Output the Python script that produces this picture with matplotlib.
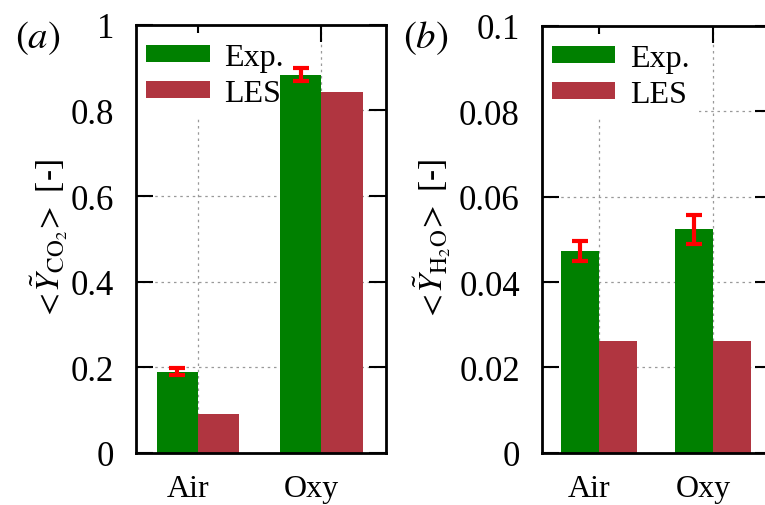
import matplotlib.pyplot as plt
import matplotlib.transforms as mtransforms
import numpy as np

plt.rcParams['font.family'] = 'Liberation Serif'
plt.rcParams['mathtext.fontset'] = 'stix'

cases = ['Air', 'Oxy']
# panel (a): mean CO2 mass fraction
co2_exp = [0.19, 0.883]
co2_exp_err = [0.008, 0.015]
co2_les = [0.091, 0.842]
# panel (b): mean H2O mass fraction
h2o_exp = [0.0473, 0.0524]
h2o_exp_err = [0.0023, 0.0034]
h2o_les = [0.0262, 0.0262]

green = '#008000'
red = '#b03540'

fig = plt.figure(figsize=(7.65, 5.06), dpi=100)
ax1 = fig.add_axes([0.178, 0.103, 0.326, 0.846])
ax2 = fig.add_axes([0.7085, 0.103, 0.3007, 0.844])


def draw(ax, exp, err, les, ymax, yticks, yfmt, ylabel, labx):
    x = np.arange(len(cases))
    w = 1/3
    ax.bar(x - w/2, exp, w, color=green, label='Exp.', zorder=2)
    ax.bar(x + w/2, les, w, color=red, label='LES', zorder=2)
    ax.errorbar(x - w/2, exp, yerr=err, fmt='none', ecolor='red',
                elinewidth=3, capsize=6, capthick=3, zorder=3)
    ax.set_xlim(-0.5, 1.52)
    ax.set_ylim(0, ymax)
    ax.set_xticks(x)
    ax.set_xticklabels(cases)
    ax.set_yticks(yticks)
    ax.set_yticklabels([yfmt(v) for v in yticks])
    ax.grid(True, linestyle=(0, (2, 3)), color='#999999', linewidth=0.9, zorder=0)
    ax.set_axisbelow(True)
    ax.tick_params(direction='in', length=12, width=1.5, top=True, right=True)
    ax.tick_params(axis='y', pad=16, labelsize=25)
    ax.tick_params(axis='x', pad=15, labelsize=23)
    # x labels sit a little left of their ticks
    shift = mtransforms.ScaledTranslation(-0.10, 0, fig.dpi_scale_trans)
    for lab in ax.get_xticklabels():
        lab.set_transform(lab.get_transform() + shift)
    for s in ax.spines.values():
        s.set_linewidth(2)
    ax.set_ylabel(ylabel, fontsize=24)
    ax.yaxis.set_label_coords(labx, 0.5)
    leg = ax.legend(loc='upper left', bbox_to_anchor=(0.0, 0.98), frameon=True,
                    fontsize=23, handlelength=2.0, handleheight=0.45,
                    borderpad=0.3, labelspacing=0.22, handletextpad=0.45,
                    borderaxespad=0)
    leg.get_frame().set_edgecolor('none')
    leg.get_frame().set_alpha(1)
    leg.get_frame().set_boxstyle('square', pad=0)
    leg.set_zorder(1.5)
    return ax


def fmt_a(v):
    return '0' if v == 0 else ('1' if v == 1 else '%.1f' % v)


def fmt_b(v):
    return '0' if v == 0 else ('0.1' if abs(v - 0.1) < 1e-9 else '%.2f' % v)


draw(ax1, co2_exp, co2_exp_err, co2_les, 1.0, [0, 0.2, 0.4, 0.6, 0.8, 1.0], fmt_a,
     r'${<}\!\tilde{Y}_{\mathrm{CO_2}}\!{>}$ [-]', -0.265)
draw(ax2, h2o_exp, h2o_exp_err, h2o_les, 0.1, [0, 0.02, 0.04, 0.06, 0.08, 0.1], fmt_b,
     r'${<}\!\tilde{Y}_{\mathrm{H_2O}}\!{>}$ [-]', -0.385)

fig.text(0.02, 0.905, r'$(a)$', fontsize=28)
fig.text(0.527, 0.905, r'$(b)$', fontsize=28)

fig.savefig('out.png', dpi=100)
